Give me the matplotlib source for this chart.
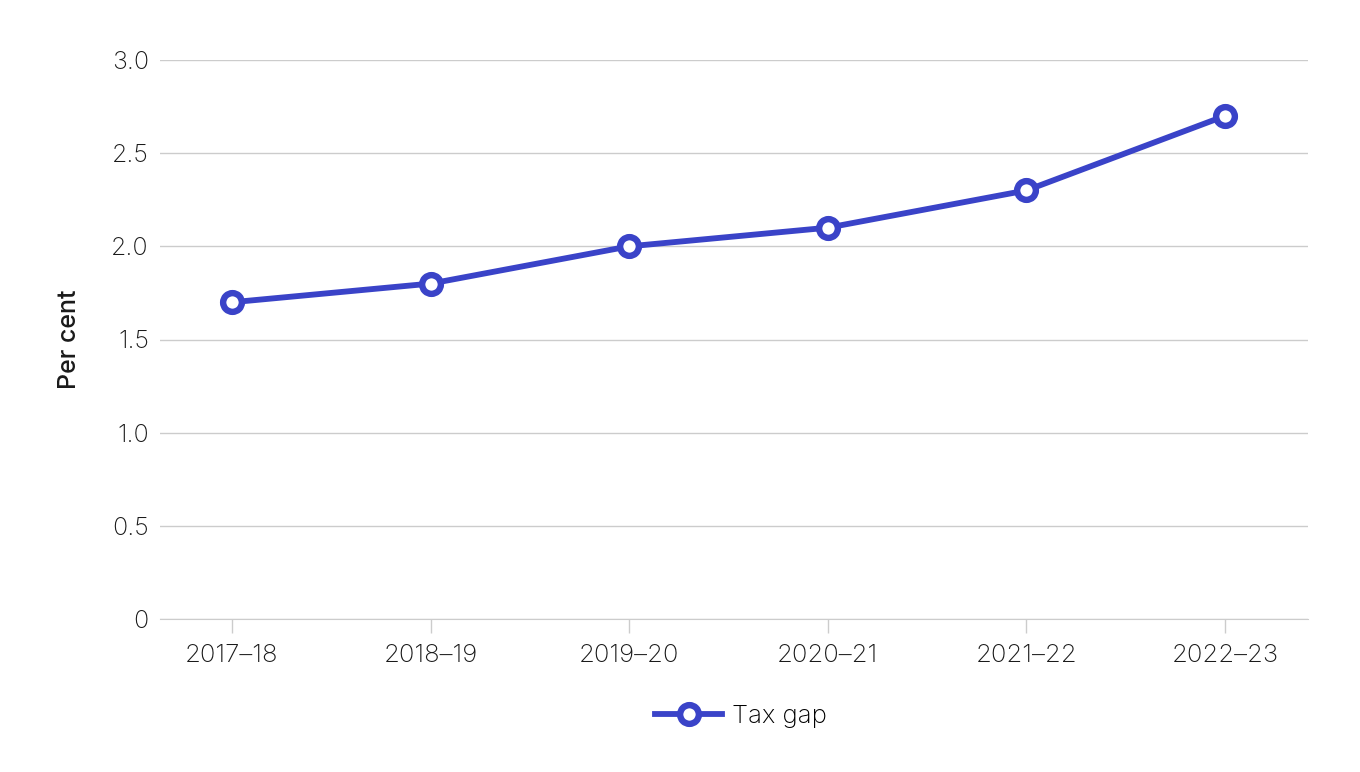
import matplotlib.pyplot as plt

# Tax gap, per cent
years = ["2017–18", "2018–19", "2019–20", "2020–21", "2021–22", "2022–23"]
tax_gap = [1.7, 1.8, 2.0, 2.1, 2.3, 2.7]
y_ticks = [0, 0.5, 1.0, 1.5, 2.0, 2.5, 3.0]
y_labels = ["0", "0.5", "1.0", "1.5", "2.0", "2.5", "3.0"]

plt.rcParams['font.family'] = ['Inter', 'DejaVu Sans']
blue = "#3a43c8"
grey = "#cccccc"
txt = "#1a1a1a"

fig = plt.figure(figsize=(13.6, 7.72), dpi=100)
ax = fig.add_axes([160 / 1360, 1 - 619 / 772, 1148 / 1360, 559 / 772])

x = range(len(years))
ax.plot(x, tax_gap, color=blue, lw=4.2, marker='o', ms=13.5,
        mfc='white', mec=blue, mew=4.6, label="Tax gap", zorder=3)

ax.set_ylim(0, 3.0)
ax.set_xlim(-0.3625, 5.418)
ax.set_yticks(y_ticks)
ax.set_yticklabels(y_labels, fontweight='light')
ax.set_xticks(list(x))
ax.set_xticklabels(years, fontweight='light')
ax.grid(axis='y', color=grey, lw=1)
ax.set_axisbelow(True)

for s in ['top', 'right', 'left']:
    ax.spines[s].set_visible(False)
ax.spines['bottom'].set_color(grey)
ax.tick_params(axis='y', length=0, pad=8, labelsize=18, colors=txt)
ax.tick_params(axis='x', length=10, color=grey, width=1, pad=8, labelsize=18.5, colors=txt)

ax.set_ylabel("Per cent", fontsize=18, fontweight='medium', labelpad=22, color=txt)

fig.legend(loc='center', bbox_to_anchor=(0.545, 0.072), frameon=False,
           prop={'size': 18.5, 'weight': 'light'}, handlelength=2.6, handletextpad=0.4)

fig.savefig("out.png", dpi=100)
